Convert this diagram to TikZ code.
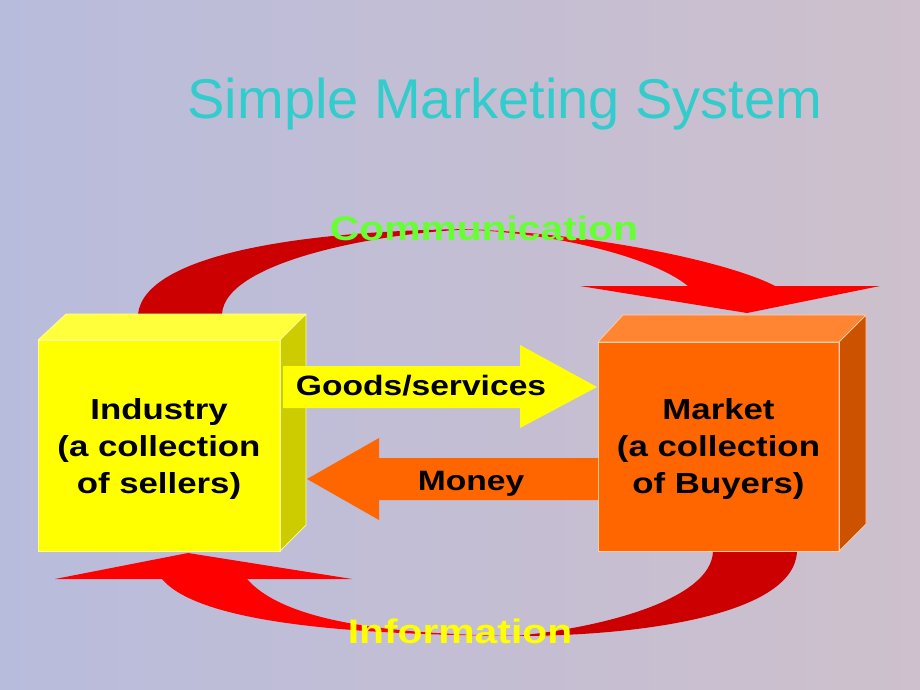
\documentclass[tikz,border=0pt]{standalone}
\usepackage{fontspec}
\setmainfont{Liberation Sans}
\newfontfamily\wordart{Liberation Sans}[FakeStretch=1.2]

\definecolor{bgleft}{RGB}{184,188,220}
\definecolor{bgright}{RGB}{206,192,204}
\definecolor{titlecyan}{RGB}{51,204,204}
\definecolor{commgreen}{RGB}{102,255,51}
\definecolor{backred}{RGB}{204,0,0}
\definecolor{frontred}{RGB}{255,0,0}
\definecolor{indfront}{RGB}{255,255,0}
\definecolor{indtop}{RGB}{255,255,60}
\definecolor{indside}{RGB}{204,204,0}
\definecolor{mktfront}{RGB}{255,102,0}
\definecolor{mkttop}{RGB}{255,133,51}
\definecolor{mktside}{RGB}{204,82,0}

\tikzset{
  cube/.style={rectangle, inner sep=0pt, outer sep=0pt, align=center,
    font=\wordart\bfseries\fontsize{29}{37}\selectfont},
  flowtext/.style={anchor=base, inner sep=0pt, font=\wordart\bfseries\fontsize{28}{30}\selectfont},
  looptext/.style={anchor=base, inner sep=0pt, font=\wordart\bfseries\fontsize{34}{36}\selectfont},
  edgeline/.style={line width=0.7pt, line join=round}
}

\begin{document}
\begin{tikzpicture}[x=1pt,y=-1pt]
\useasboundingbox (0,0) rectangle (920,690);
\fill[left color=bgleft, right color=bgright] (0,0) rectangle (920,690);

% title
\node[anchor=base, inner sep=0pt, text=titlecyan, font=\fontsize{56}{60}\selectfont]
  (title) at (505,118) {Simple Marketing System};

% communication loop (back part, then front part with head)
\fill[backred] (138,314) .. controls (145,255) and (300,229) .. (488,229)
  .. controls (400,229) and (225,258) .. (222,314) -- cycle;
\fill[frontred] (440,229) .. controls (580,229) and (730,262) .. (775,286)
  -- (880,286) -- (747,313) -- (580,286) -- (688,286)
  .. controls (650,255) and (540,229) .. (440,229) -- cycle;

% information loop
\fill[backred] (797,551) .. controls (795,615) and (640,636) .. (515,636)
  .. controls (600,628) and (712,600) .. (713,551) -- cycle;
\fill[frontred] (162,579) .. controls (205,630) and (400,636) .. (550,636)
  .. controls (420,636) and (290,628) .. (247,579)
  -- (352,579) -- (188,553) -- (55,579) -- cycle;

% industry box
\node[cube, fill=indfront, minimum width=242, minimum height=211] (ind) at (159,445.5) {};
\node[cube] (indtext) at (159,449) {Industry\\(a collection\\of sellers)};
\filldraw[indtop, draw=indfront!40!white, edgeline] (ind.north west) -- ++(28,-26) -- ++(240,0) -- (ind.north east) -- cycle;
\filldraw[indside, draw=indfront!40!white, edgeline] (ind.north east) -- ++(26,-26) -- ++(0,211) -- (ind.south east) -- cycle;
\draw[indfront!40!white, edgeline] (ind.south west) -- (ind.north west) -- (ind.north east) -- (ind.south east) -- cycle;

% market box
\node[cube, fill=mktfront, minimum width=241, minimum height=209] (mkt) at (718.5,446.5) {};
\node[cube] (mkttext) at (718.5,449) {Market\\(a collection\\of Buyers)};
\filldraw[mkttop, draw=mkttop!40!white, edgeline] (mkt.north west) -- ++(25,-27) -- ++(243,0) -- (mkt.north east) -- cycle;
\filldraw[mktside, draw=mkttop!40!white, edgeline] (mkt.north east) -- ++(27,-27) -- ++(0,209) -- (mkt.south east) -- cycle;
\draw[mkttop!40!white, edgeline] (mkt.south west) -- (mkt.north west) -- (mkt.north east) -- (mkt.south east) -- cycle;

% flows between the boxes
\fill[indfront] (283,366) -- (520,366) -- (520,345) -- (597,387) -- (520,428) -- (520,408) -- (283,408) -- cycle;
\fill[mktfront] (598,458) -- (379,458) -- (379,438) -- (307,479) -- (379,520) -- (379,500) -- (598,500) -- cycle;

% labels
\node[flowtext] (goods) at (421,395) {Goods/services};
\node[flowtext] (money) at (471,490) {Money};
\node[looptext, text=commgreen] (comm) at (484,240) {Communication};
\node[looptext, text=indfront] (info) at (460,643) {Information};
\end{tikzpicture}
\end{document}
